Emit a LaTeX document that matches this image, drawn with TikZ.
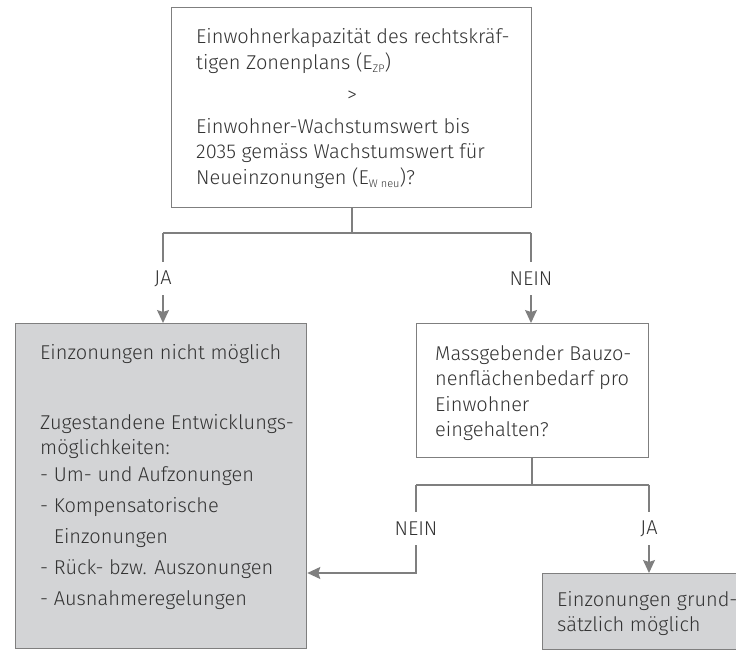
\documentclass[tikz,border=0pt]{standalone}
\usepackage{fontspec}
\IfFontExistsTF{Fira Sans Light}{\setmainfont{Fira Sans Light}}{\setmainfont{Liberation Sans}}
\usetikzlibrary{arrows.meta}
\definecolor{txt}{HTML}{333333}
\definecolor{ln}{HTML}{7F7F7F}
\definecolor{boxfill}{HTML}{D3D4D6}
\newcommand\lowsub[1]{\raisebox{-3.5pt}{\fontsize{11}{11}\selectfont #1}}
\tikzset{
  qbox/.style={draw=ln, line width=1.3pt, fill=white, anchor=north west, inner sep=0pt},
  rbox/.style={draw=ln, line width=1.3pt, fill=boxfill, anchor=north west, inner sep=0pt},
  para/.style={anchor=base west, inner sep=0pt, align=left, text=txt,
    font=\fontsize{20}{25.5}\selectfont},
  lbl/.style={inner sep=0pt, minimum height=33pt, text=txt, font=\fontsize{20}{22}\selectfont},
  conn/.style={draw=ln, line width=1.3pt},
  arr/.style={conn, -{Stealth[length=13pt, width=12pt, inset=2pt]}},
}
\begin{document}
\begin{tikzpicture}[x=1pt, y=-1pt]
\useasboundingbox (0,0) rectangle (736,650);
% boxes
\node[qbox, minimum width=360pt, minimum height=200pt] (q1) at (171,7) {};
\node[rbox, minimum width=291pt, minimum height=325pt] (res1) at (15,323) {};
\node[qbox, minimum width=232pt, minimum height=134pt] (q2) at (416,323) {};
\node[rbox, minimum width=194pt, minimum height=76pt] (res2) at (542,573) {};
% texts (anchored at the baseline of their last line)
\node[para] (t1a) at (196,69.5) {Einwohnerkapazität des rechtskräf-\\tigen Zonenplans (E\lowsub{ZP})};
\node[para, anchor=base] (t1b) at (352,102) {>};
\node[para] (t1c) at (196,184) {Einwohner-Wachstumswert bis\\2035 gemäss Wachstumswert für\\Neueinzonungen (E\lowsub{W neu})?};
\node[para] (t2) at (435,436.5) {Massgebender Bauzo-\\nenflächenbedarf pro\\Einwohner\\eingehalten?};
\node[para] (t3a) at (40,359) {Einzonungen nicht möglich};
\node[para] (t3b) at (40,454.5) {Zugestandene Entwicklungs-\\möglichkeiten:};
\node[para, font=\fontsize{20}{31}\selectfont] (t3c) at (40,605) {- Um- und Aufzonungen\\- Kompensatorische\\\hphantom{- }Einzonungen\\- Rück- bzw. Auszonungen\\- Ausnahmeregelungen};
\node[para] (t4) at (557,631.5) {Einzonungen grund-\\sätzlich möglich};
% coordinates
\coordinate (s1) at (352,233);
\coordinate (ja1top) at (163,233);
\coordinate (nein1top) at (531,233);
\coordinate (s2) at (532,485);
\coordinate (nein2top) at (416,485);
\coordinate (ja2top) at (649,485);
\coordinate (turn) at (416,573);
% labels
\node[lbl] (ja1) at (163,278.5) {JA};
\node[lbl] (nein1) at (531,278.5) {NEIN};
\node[lbl] (nein2) at (416,528.5) {NEIN};
\node[lbl] (ja2) at (649,528.5) {JA};
% connectors
\draw[conn] (q1.south -| s1) -- (s1);
\draw[conn] (ja1top) -- (nein1top);
\draw[conn] (ja1top) -- (ja1.north);
\draw[conn] (nein1top) -- (nein1.north);
\draw[arr] (ja1.south) -- (ja1.south |- res1.north);
\draw[arr] (nein1.south) -- (nein1.south |- q2.north);
\draw[conn] (q2.south -| s2) -- (s2);
\draw[conn] (nein2top) -- (ja2top);
\draw[conn] (nein2top) -- (nein2.north);
\draw[conn] (ja2top) -- (ja2.north);
\draw[arr] (nein2.south) -- (turn) -- (turn -| res1.east);
\draw[arr] (ja2.south) -- (ja2.south |- res2.north);
\end{tikzpicture}
\end{document}
